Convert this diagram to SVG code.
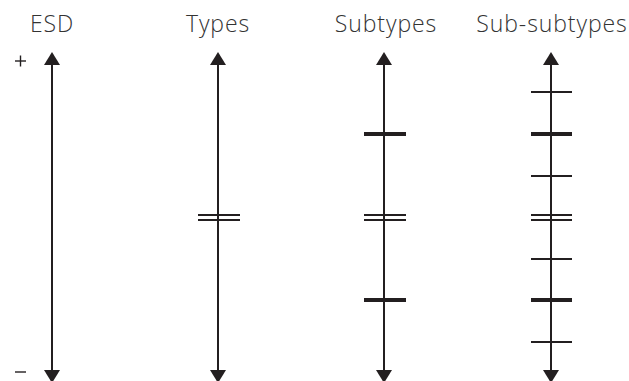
<svg xmlns="http://www.w3.org/2000/svg" width="629" height="381" viewBox="0 0 629 381">
<defs>
<style>
.t{font-family:"Open Sans","Liberation Sans",sans-serif;font-weight:300;font-size:23px;fill:#333;text-anchor:middle;letter-spacing:0.9px}
.ax{stroke:#231f20;stroke-width:2;fill:none}
.thin{stroke:#231f20;stroke-width:2}
.thick{stroke:#231f20;stroke-width:4}
.sym{stroke:#231f20;stroke-width:1.4}
.ah{fill:#231f20}
</style>
</defs>
<rect width="629" height="381" fill="#fff"/>
<g id="esd">
<text class="t" x="52" y="32">ESD</text>
<line class="sym" x1="15" y1="61" x2="26" y2="61"/>
<line class="sym" x1="20.5" y1="55.5" x2="20.5" y2="66.5"/>
<line class="sym" x1="15" y1="372" x2="26" y2="372"/>
</g>
<g id="types"><text class="t" x="218" y="32">Types</text></g>
<g id="subtypes"><text class="t" x="386" y="32">Subtypes</text></g>
<g id="subsubtypes"><text class="t" x="552" y="32">Sub-subtypes</text></g>
<g id="connectors">
<g id="axis-esd">
<line class="ax" x1="52" y1="62" x2="52" y2="372"/>
<polygon class="ah" points="52,52 44,65 60,65"/>
<polygon class="ah" points="52,383 44,370 60,370"/>
</g>
<g id="axis-types">
<line class="ax" x1="218" y1="62" x2="218" y2="372"/>
<polygon class="ah" points="218,52 210,65 226,65"/>
<polygon class="ah" points="218,383 210,370 226,370"/>
<line class="thin" x1="198" y1="215" x2="240" y2="215"/>
<line class="thin" x1="198" y1="220" x2="240" y2="220"/>
</g>
<g id="axis-subtypes">
<line class="ax" x1="384" y1="62" x2="384" y2="372"/>
<polygon class="ah" points="384,52 376,65 392,65"/>
<polygon class="ah" points="384,383 376,370 392,370"/>
<line class="thick" x1="364" y1="134" x2="406" y2="134"/>
<line class="thin" x1="364" y1="215" x2="406" y2="215"/>
<line class="thin" x1="364" y1="220" x2="406" y2="220"/>
<line class="thick" x1="364" y1="300" x2="406" y2="300"/>
</g>
<g id="axis-subsubtypes">
<line class="ax" x1="551" y1="62" x2="551" y2="372"/>
<polygon class="ah" points="551,52 543,65 559,65"/>
<polygon class="ah" points="551,383 543,370 559,370"/>
<line class="thin" x1="531" y1="92" x2="572" y2="92"/>
<line class="thick" x1="531" y1="134" x2="572" y2="134"/>
<line class="thin" x1="531" y1="176" x2="572" y2="176"/>
<line class="thin" x1="531" y1="215" x2="572" y2="215"/>
<line class="thin" x1="531" y1="220" x2="572" y2="220"/>
<line class="thin" x1="531" y1="259" x2="572" y2="259"/>
<line class="thick" x1="531" y1="300" x2="572" y2="300"/>
<line class="thin" x1="531" y1="342" x2="572" y2="342"/>
</g>
</g>
</svg>
